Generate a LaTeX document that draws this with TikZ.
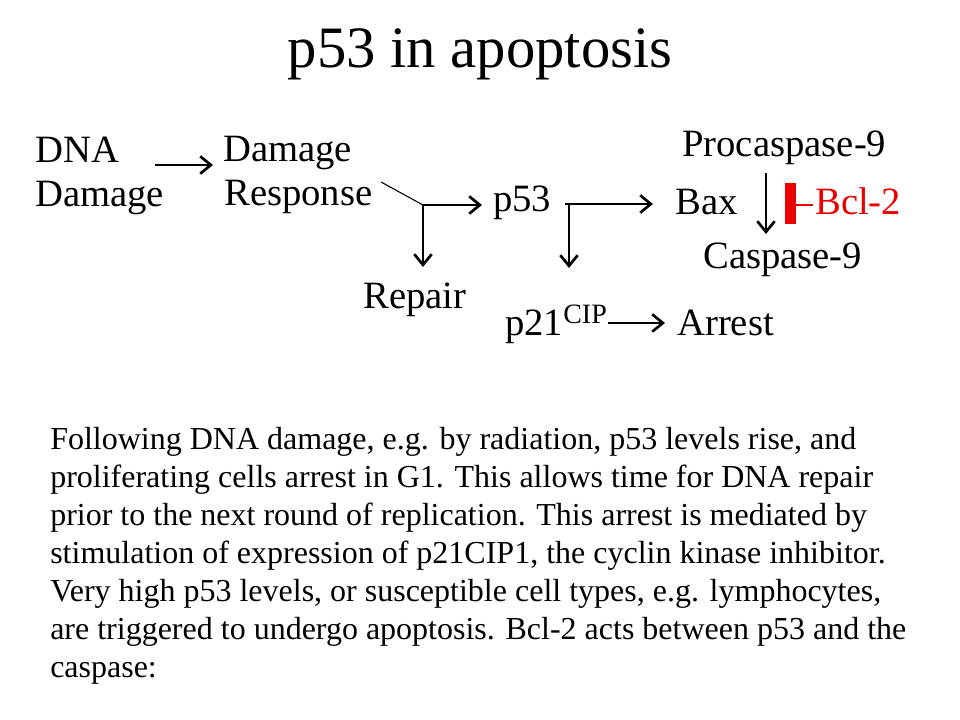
\documentclass[tikz,border=0pt]{standalone}
\usepackage{fontspec}
\setmainfont{Liberation Serif}
\usetikzlibrary{arrows.meta}
\definecolor{bclred}{RGB}{235,0,0}
\begin{document}
\begin{tikzpicture}[x=0.75pt,y=-0.75pt,
  lbl/.style={font=\fontsize{29pt}{33pt}\selectfont, inner sep=0pt, anchor=base west},
  bodyline/.style={font=\fontsize{24pt}{28.8pt}\selectfont, inner sep=0pt, anchor=base west},
  arr/.style={-{Straight Barb[length=8pt,width=13pt,line width=2pt]}, line width=1.2pt},
  thin line/.style={line width=0.8pt}]
\useasboundingbox (0,0) rectangle (960,720);
\fill[white] (0,0) rectangle (960,720);
% title
\node[font=\fontsize{44pt}{52pt}\selectfont, inner sep=0pt, anchor=base] (title) at (480,68) {p53 in apoptosis};
% diagram labels
\node[lbl] (dna1) at (35,163) {DNA};
\node[lbl] (dna2) at (35,207) {Damage};
\node[lbl] (dr1) at (223,162) {Damage};
\node[lbl] (dr2) at (224,206) {Response};
\node[lbl] (p53) at (493,212) {p53};
\node[lbl] (repair) at (363,309) {Repair};
\node[lbl] (procasp) at (682,157) {Procaspase-9};
\node[lbl] (bax) at (675,215) {Bax};
\node[lbl, text=bclred] (bcl) at (815,215) {Bcl-2};
\node[lbl] (casp) at (703,269) {Caspase-9};
\node[lbl] (p21) at (505,335) {p21\raisebox{9pt}{\fontsize{21pt}{21pt}\selectfont CIP}};
\node[lbl] (arrest) at (677,335) {Arrest};
% connector points
\coordinate (a1s) at (155,165);
\coordinate (a1e) at (213,165);
\coordinate (sl1) at (381,182);
\coordinate (br1) at (423,205);
\coordinate (a2e) at (482,205);
\coordinate (a3e) at (423,267);
\coordinate (br2) at (565,204);
\coordinate (a4e) at (653,204);
\coordinate (br3) at (569,204);
\coordinate (a5e) at (569,268);
\coordinate (a6s) at (766,173);
\coordinate (a6e) at (766,234);
\coordinate (a7s) at (608,323);
\coordinate (a7e) at (665,323);
\coordinate (inhs) at (813,205);
\coordinate (inhe) at (796,205);
% connectors
\draw[arr] (a1s) -- (a1e);
\draw[thin line] (sl1) -- (br1);
\draw[arr] (br1) -- (a2e);
\draw[arr] (br1) -- (a3e);
\draw[arr] (br2) -- (a4e);
\draw[arr] (br3) -- (a5e);
\draw[arr] (a6s) -- (a6e);
\draw[arr] (a7s) -- (a7e);
\draw[bclred, line width=1.3pt] (inhs) -- (inhe);
\fill[bclred] (785,183) rectangle (796,224);
% body text
\node[bodyline] (t1) at (50,449) {Following DNA damage, e.g. by radiation, p53 levels rise, and};
\node[bodyline] (t2) at (50,487) {proliferating cells arrest in G1. This allows time for DNA repair};
\node[bodyline] (t3) at (50,525) {prior to the next round of replication. This arrest is mediated by};
\node[bodyline] (t4) at (50,563) {stimulation of expression of p21CIP1, the cyclin kinase inhibitor.};
\node[bodyline] (t5) at (50,601) {Very high p53 levels, or susceptible cell types, e.g. lymphocytes,};
\node[bodyline] (t6) at (50,639) {are triggered to undergo apoptosis. Bcl-2 acts between p53 and the};
\node[bodyline] (t7) at (50,677) {caspase:};
\end{tikzpicture}
\end{document}
